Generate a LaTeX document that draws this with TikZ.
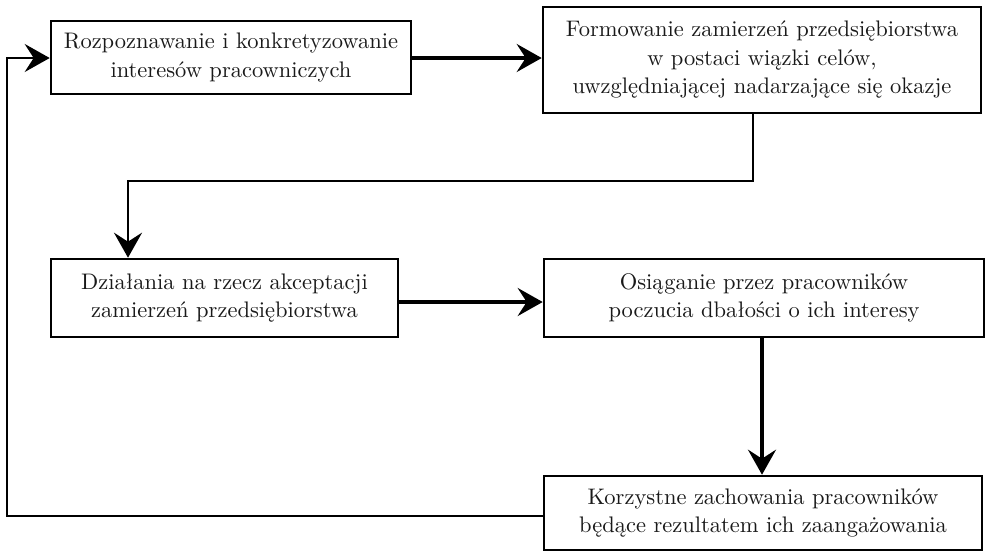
\documentclass[tikz,border=0pt]{standalone}
\usepackage{fontspec}
\setmainfont{lmroman10-regular}[Extension=.otf]
\usetikzlibrary{arrows.meta}
\begin{document}
\begin{tikzpicture}[x=1pt,y=-1pt,
  box/.style={draw=black,line width=2.6pt,fill=white,align=center,inner sep=0pt,
    font=\fontsize{22.5}{28.5}\selectfont,text=black!90},
  arr/.style={line width=3.2pt,-{Stealth[length=25pt,width=28pt,inset=9pt]}}]
\useasboundingbox (0,0) rectangle (986,552);
\node[box,minimum width=360pt,minimum height=73pt] (b1) at (231,57.5)
  {Rozpoznawanie i konkretyzowanie\\interesów pracowniczych};
\node[box,minimum width=438pt,minimum height=106pt] (b2) at (762,60)
  {Formowanie zamierzeń przedsiębiorstwa\\w postaci wiązki celów,\\uwzględniającej nadarzające się okazje};
\node[box,minimum width=347pt,minimum height=78pt] (b3) at (224.5,298)
  {Działania na rzecz akceptacji\\zamierzeń przedsiębiorstwa};
\node[box,minimum width=440pt,minimum height=78pt] (b4) at (764,298)
  {Osiąganie przez pracowników\\poczucia dbałości o ich interesy};
\node[box,minimum width=438pt,minimum height=74pt] (b5) at (763,513)
  {Korzystne zachowania pracowników\\będące rezultatem ich zaangażowania};
\coordinate (k1) at (753,181);
\coordinate (k2) at (128,181);
\coordinate (h1) at (0,302);
\coordinate (vx) at (762,0);
\coordinate (f1) at (7,516);
\coordinate (f2) at (7,58);
\draw[arr] (b1.east |- f2) -- (b2.west |- f2);
\draw[arr,line width=2.8pt] (b2.south -| k1) -- (k1) -- (k2) -- (b3.north -| k2);
\draw[arr] (b3.east |- h1) -- (b4.west |- h1);
\draw[arr] (b4.south -| vx) -- (b5.north -| vx);
\draw[arr,line width=2.5pt] (b5.west |- f1) -- (f1) -- (f2) -- (b1.west |- f2);
\end{tikzpicture}
\end{document}
